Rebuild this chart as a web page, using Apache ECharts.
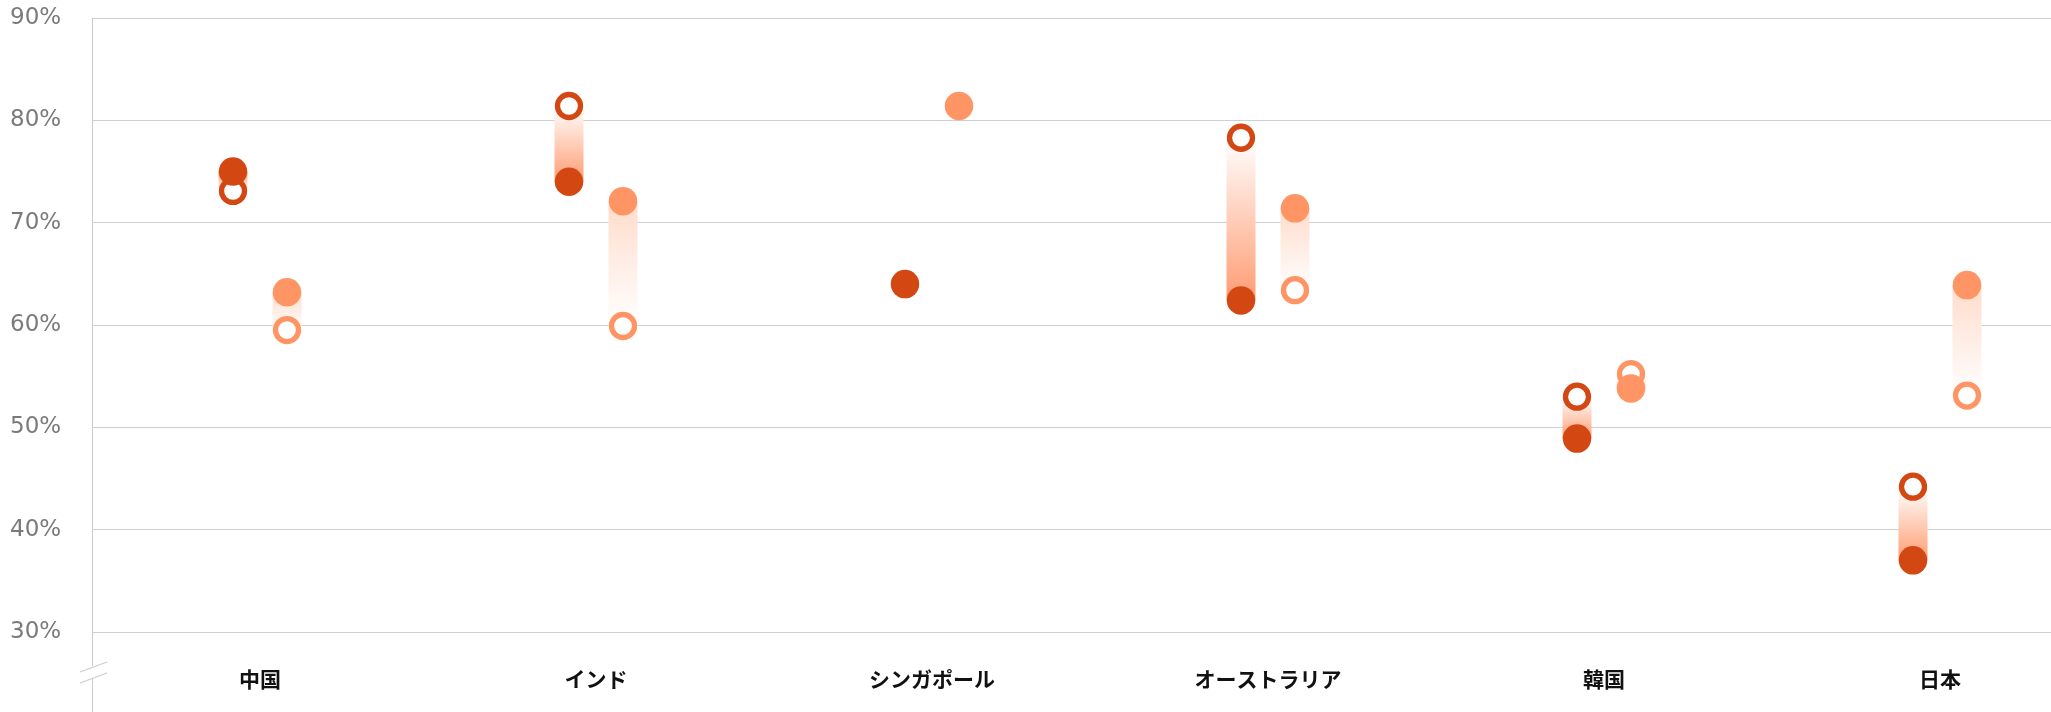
<!DOCTYPE html>
<html>
<head>
<meta charset="utf-8">
<script src="https://cdn.jsdelivr.net/npm/echarts@6/dist/echarts.min.js"></script>
<style>
html,body{margin:0;padding:0;background:#fff;}
#chart{width:2051px;height:712px;}
</style>
</head>
<body>
<div id="chart"></div>
<script>
const categories = ['中国', 'インド', 'シンガポール', 'オーストラリア', '韓国', '日本'];
const darkPrev = [73.1, 81.4, null, 78.3, 53.0, 44.2];
const darkCurr = [75.0, 74.0, 64.0, 62.4, 48.9, 37.0];
const lightPrev = [59.5, 59.9, null, 63.4, 55.2, 53.1];
const lightCurr = [63.2, 72.1, 81.4, 71.4, 53.8, 63.9];
const yTicks = [30, 40, 50, 60, 70, 80, 90];

const DARK = '#D34713';
const LIGHT = '#FF9464';
const OFF = 27;

function pairs(prev, curr) {
  return categories.map((c, i) => [i, prev[i], curr[i]]).filter(d => d[1] != null && d[2] != null);
}
function pts(arr) {
  return arr.map((v, i) => [i, v]).filter(d => d[1] != null);
}
function barSeries(prev, curr, offset, endColor, startColor) {
  return {
    type: 'custom',
    z: 1,
    silent: true,
    clip: false,
    data: pairs(prev, curr),
    encode: {x: 0, y: [1, 2]},
    renderItem: function (params, api) {
      const x = api.coord([api.value(0), 0])[0] + offset;
      const yA = api.coord([api.value(0), api.value(1)])[1];
      const yB = api.coord([api.value(0), api.value(2)])[1];
      const top = Math.min(yA, yB), h = Math.abs(yA - yB);
      const hollowTop = yA < yB;
      const stops = hollowTop
        ? [{offset: 0, color: startColor}, {offset: 1, color: endColor}]
        : [{offset: 0, color: endColor}, {offset: 1, color: startColor}];
      return {
        type: 'rect',
        shape: {x: x - 14.5, y: top, width: 29, height: h},
        style: {fill: new echarts.graphic.LinearGradient(0, 0, 0, 1, stops)}
      };
    }
  };
}
function hollow(arr, offset, color) {
  return {
    type: 'scatter', z: 2, silent: true,
    data: pts(arr),
    symbol: 'circle', symbolSize: 23, symbolOffset: [offset, 0],
    itemStyle: {color: '#ffffff', borderColor: color, borderWidth: 5.3, opacity: 1}
  };
}
function filled(arr, offset, color) {
  return {
    type: 'scatter', z: 3, silent: true,
    data: pts(arr),
    symbol: 'circle', symbolSize: 28.5, symbolOffset: [offset, 0],
    itemStyle: {color: color, opacity: 1}
  };
}

const chart = echarts.init(document.getElementById('chart'));
chart.setOption({
  animation: false,
  backgroundColor: '#ffffff',
  grid: {left: 92, top: 18, bottom: 80, width: 2016, containLabel: false, outerBoundsMode: 'none'},
  xAxis: {
    type: 'category',
    data: categories,
    axisLine: {show: false},
    axisTick: {show: false},
    axisLabel: {
      margin: 37, fontSize: 21, fontWeight: 'bold', color: '#111',
      fontFamily: '"Noto Sans CJK JP", sans-serif', interval: 0
    },
    splitLine: {show: false}
  },
  yAxis: {
    type: 'value',
    min: yTicks[0], max: yTicks[yTicks.length - 1], interval: 10,
    axisLine: {show: true, lineStyle: {color: '#cccccc', width: 1}},
    axisTick: {show: false},
    axisLabel: {
      formatter: '{value}%', align: 'left', margin: 82, padding: [4, 0, 0, 0],
      fontSize: 23, color: '#7a7a7a', fontFamily: '"DejaVu Sans", sans-serif'
    },
    splitLine: {show: true, lineStyle: {color: '#cfcfcf', width: 1}}
  },
  graphic: [
    {type: 'line', shape: {x1: 92.5, y1: 632, x2: 92.5, y2: 666}, style: {stroke: '#cccccc', lineWidth: 1}},
    {type: 'line', shape: {x1: 92.5, y1: 678, x2: 92.5, y2: 712}, style: {stroke: '#cccccc', lineWidth: 1}},
    {type: 'line', shape: {x1: 80, y1: 672, x2: 107, y2: 662}, style: {stroke: '#cccccc', lineWidth: 1.2}},
    {type: 'line', shape: {x1: 80, y1: 683, x2: 107, y2: 673}, style: {stroke: '#cccccc', lineWidth: 1.2}}
  ],
  series: [
    barSeries(darkPrev, darkCurr, -OFF, '#FF9C72', 'rgba(255,255,255,1)'),
    barSeries(lightPrev, lightCurr, OFF, '#FFDCCB', 'rgba(255,255,255,1)'),
    hollow(darkPrev, -OFF, DARK),
    hollow(lightPrev, OFF, LIGHT),
    filled(darkCurr, -OFF, DARK),
    filled(lightCurr, OFF, LIGHT)
  ]
});
</script>
</body>
</html>
